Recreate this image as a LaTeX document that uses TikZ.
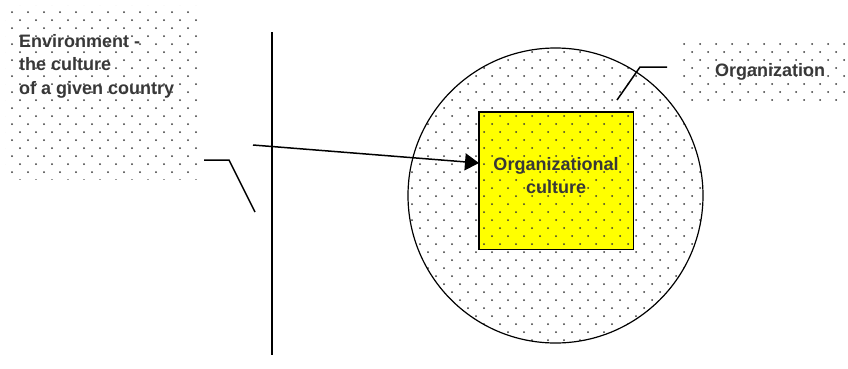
\documentclass[tikz,border=0pt]{standalone}
\usepackage{fontspec}
\setmainfont{Liberation Sans}
\usetikzlibrary{arrows.meta}
\definecolor{dotc}{RGB}{55,55,55}
\definecolor{cultyellow}{RGB}{255,255,0}
\newcommand\mydots[4]{\foreach \i in {#1,...,#2}{\foreach \j in {#3,...,#4}{\pgfmathsetmacro\xx{16*\j+8*mod(\i,2)+4}\fill[dotc] (\xx,8*\i+4) circle (1.0);}}}
\begin{document}
\begin{tikzpicture}[x=1pt,y=-1pt,
  lbl/.style={font=\bfseries\fontsize{18}{23.5}\selectfont, inner sep=0pt, text=black!78},
  ln/.style={line width=1.5pt, black},
  outl/.style={line width=1.2pt, black}]
\useasboundingbox[fill=white] (0,0) rectangle (848,368);
% left dotted box
\node[anchor=north west, minimum width=192, minimum height=174, inner sep=0] (envbox) at (5,5) {};
\begin{scope}
\clip (envbox.north west) rectangle (envbox.south east);
\mydots{0}{22}{0}{12}
\end{scope}
\node[lbl, anchor=north west, align=left] (env) at (19,34) {Environment -\\the culture\\of a given country};
% vertical line
\coordinate (vt) at (272,32);
\coordinate (vb) at (272,355);
\draw[ln] (vt) -- (vb);
% left callout
\coordinate (c1) at (204,160);
\coordinate (c2) at (229,160);
\coordinate (c3) at (255,212);
\draw[ln] (c1) -- (c2) -- (c3);
% circle
\node[circle, minimum size=295, inner sep=0] (org) at (555.5,195.5) {};
\begin{scope}
\clip (org.center) circle (147.5);
\mydots{5}{43}{24}{44}
\end{scope}
\draw[outl] (org.center) circle (147.5);
% yellow box
\node[anchor=north west, minimum width=154, minimum height=137, inner sep=0, fill=cultyellow] (cult) at (479,112) {};
\begin{scope}
\clip (cult.north west) rectangle (cult.south east);
\mydots{13}{31}{29}{39}
\end{scope}
\draw[outl] (cult.north west) rectangle (cult.south east);
\node[lbl, align=center, anchor=north] (culttxt) at (556,157) {Organizational\\culture};
% arrow
\coordinate (as) at (253,145);
\coordinate (ae) at (cult.west |- 0,163);
\draw[ln, -{Triangle[length=14pt,width=17pt]}] (as) -- (ae);
% organization box
\node[anchor=north west, minimum width=168, minimum height=62, inner sep=0] (orgbox) at (680,38) {};
\begin{scope}
\clip (orgbox.north west) rectangle (orgbox.south east);
\mydots{4}{12}{42}{53}
\end{scope}
\node[lbl, anchor=base west] (orgtxt) at (715,76) {Organization};
% right callout
\coordinate (r1) at (667,67);
\coordinate (r2) at (640,67);
\coordinate (r3) at (617,100);
\draw[ln] (r1) -- (r2) -- (r3);
\end{tikzpicture}
\end{document}
